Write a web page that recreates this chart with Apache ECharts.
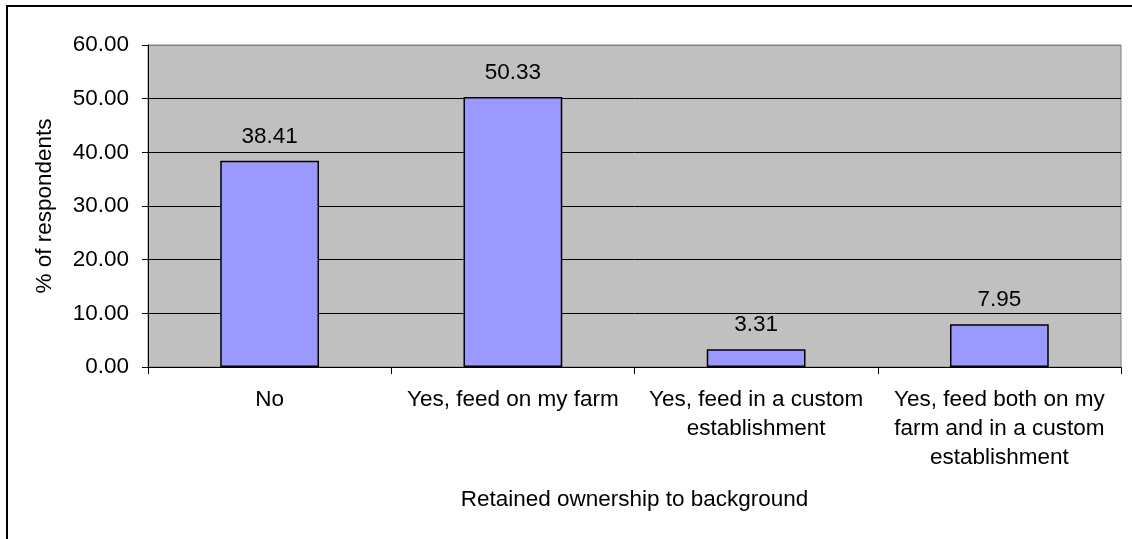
<!DOCTYPE html>
<html>
<head>
<meta charset="utf-8">
<script src="https://cdn.jsdelivr.net/npm/echarts@6/dist/echarts.min.js"></script>
<style>
html,body{margin:0;padding:0;background:#fff;}
#chart{width:1132px;height:539px;}
</style>
</head>
<body>
<div id="chart"></div>
<script>
const categories = [
  "No",
  "Yes, feed on my farm",
  "Yes, feed in a custom\nestablishment",
  "Yes, feed both on my\nfarm and in a custom\nestablishment"
];
const values = [38.41, 50.33, 3.31, 7.95];
const yAxisTitle = "% of respondents";
const xAxisTitle = "Retained ownership to background";

const FONT = '"Liberation Sans", Arial, sans-serif';
const FS = 22.5;

const chart = echarts.init(document.getElementById('chart'), null, {renderer: 'canvas'});
chart.setOption({
  animation: false,
  backgroundColor: '#ffffff',
  textStyle: {fontFamily: FONT, color: '#000'},
  graphic: [{
    type: 'rect',
    shape: {x: 7, y: 6, width: 1140, height: 550},
    style: {fill: 'none', stroke: '#000', lineWidth: 2},
    silent: true,
    z: 100
  }],
  grid: {
    left: 148, top: 45, right: 11, bottom: 172,
    show: true,
    backgroundColor: '#C0C0C0',
    borderColor: '#808080',
    borderWidth: 1
  },
  xAxis: {
    type: 'category',
    data: categories,
    name: xAxisTitle,
    nameLocation: 'middle',
    nameGap: 121,
    nameTextStyle: {fontSize: FS, color: '#000', fontFamily: FONT},
    axisLine: {show: true, lineStyle: {color: '#000', width: 1}},
    axisTick: {show: true, alignWithLabel: false, length: 7, lineStyle: {color: '#000'}},
    axisLabel: {
      fontSize: FS, color: '#000', fontFamily: FONT,
      margin: 18, lineHeight: 29, interval: 0, align: 'center'
    },
    splitLine: {show: false}
  },
  yAxis: {
    type: 'value',
    min: 0, max: 60, interval: 10,
    name: yAxisTitle,
    nameLocation: 'middle',
    nameGap: 92,
    nameRotate: 90,
    nameTextStyle: {fontSize: FS, color: '#000', fontFamily: FONT},
    axisLine: {show: true, lineStyle: {color: '#000', width: 1}},
    axisTick: {show: true, length: 6, lineStyle: {color: '#000'}},
    axisLabel: {
      fontSize: FS, color: '#000', fontFamily: FONT, margin: 19,
      formatter: v => v.toFixed(2)
    },
    splitLine: {show: true, lineStyle: {color: ['#000','#000','#000','#000','#000','#000','#808080'], width: 1}}
  },
  series: [{
    type: 'bar',
    data: values,
    barWidth: '40.6%',
    itemStyle: {color: '#9999FF', borderColor: '#000', borderWidth: 1.5},
    label: {
      show: true, position: 'top', distance: 13,
      fontSize: FS, color: '#000', fontFamily: FONT,
      formatter: p => p.value.toFixed(2)
    }
  }]
});
</script>
</body>
</html>
